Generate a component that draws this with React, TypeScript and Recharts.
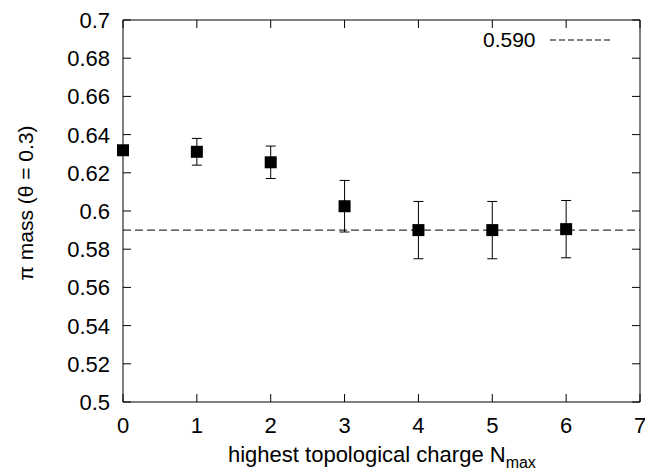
import React from 'react';
import { ScatterChart, Scatter, XAxis, YAxis, ErrorBar, ReferenceLine, ReferenceArea } from 'recharts';

const nmax = [0, 1, 2, 3, 4, 5, 6];
const pionMass = [0.6318, 0.631, 0.6255, 0.6025, 0.59, 0.59, 0.5905];
const massErr = [0.002, 0.007, 0.0085, 0.0135, 0.015, 0.015, 0.015];
const fitValue = 0.59;
const yTicks = [0.5, 0.52, 0.54, 0.56, 0.58, 0.6, 0.62, 0.64, 0.66, 0.68, 0.7];
const xTicks = [0, 1, 2, 3, 4, 5, 6, 7];

const data = nmax.map((n, i) => ({ x: n, y: pionMass[i], err: massErr[i] }));

const FONT = '"Liberation Sans", Arial, sans-serif';
const FS = 22;
// plot box (set by margins / axis sizes below)
const PLOT_TOP = 20;
const PLOT_RIGHT = 640;
const TICK = 8;
const SQ = 12;

// gnuplot-style inward ticks, mirrored on the top edge
const XTick = ({ x, y, payload }: any) => (
  <g>
    <line x1={x} y1={y} x2={x} y2={y - TICK} stroke="#000" />
    <line x1={x} y1={PLOT_TOP} x2={x} y2={PLOT_TOP + TICK} stroke="#000" />
    <text x={x} y={y + 30.5} textAnchor="middle" fontFamily={FONT} fontSize={FS} fill="#000">
      {payload.value}
    </text>
  </g>
);

// inward ticks, mirrored on the right edge
const YTick = ({ x, y, payload }: any) => (
  <g>
    <line x1={x} y1={y} x2={x + TICK} y2={y} stroke="#000" />
    <line x1={PLOT_RIGHT} y1={y} x2={PLOT_RIGHT - TICK} y2={y} stroke="#000" />
    <text x={x - 13} y={y} dy="0.36em" textAnchor="end" fontFamily={FONT} fontSize={FS} fill="#000">
      {payload.value}
    </text>
  </g>
);

const SquareDot = ({ cx, cy }: any) => (
  <rect x={cx - SQ / 2} y={cy - SQ / 2} width={SQ} height={SQ} fill="#000" />
);

const XLabel = () => (
  <text x={228} y={462} fontFamily={FONT} fontSize={FS} fill="#000">
    highest topological charge N
    <tspan fontSize={16} dy={6}>max</tspan>
  </text>
);

const YLabel = () => (
  <text
    x={33}
    y={203}
    transform="rotate(-90 33 203)"
    textAnchor="middle"
    fontFamily={FONT}
    fontSize={21}
    fill="#000"
  >
    π mass (θ = 0.3)
  </text>
);

export default function App() {
  return (
    <div style={{ position: 'absolute', left: 0, top: 0, width: 645, height: 470, background: '#fff' }}>
      <ScatterChart width={645} height={470} margin={{ top: PLOT_TOP, right: 645 - PLOT_RIGHT, left: 0, bottom: 0 }}>
        <XAxis
          dataKey="x"
          type="number"
          domain={[0, 7]}
          ticks={xTicks}
          height={68}
          axisLine={false}
          tickLine={false}
          tickSize={0}
          tickMargin={0}
          tick={XTick}
          label={{ content: XLabel }}
        />
        <YAxis
          dataKey="y"
          type="number"
          domain={[0.5, 0.7]}
          ticks={yTicks}
          width={123}
          axisLine={false}
          tickLine={false}
          tickSize={0}
          tickMargin={0}
          tick={YTick}
          label={{ content: YLabel }}
        />
        <ReferenceArea x1={0} x2={7} y1={0.5} y2={0.7} fill="none" stroke="#000" strokeWidth={1} />
        <ReferenceLine y={fitValue} stroke="#000" strokeDasharray="8 4" />
        <Scatter data={data} fill="#000" shape={SquareDot} isAnimationActive={false}>
          <ErrorBar dataKey="err" direction="y" width={5} stroke="#000" strokeWidth={1} isAnimationActive={false} />
        </Scatter>
      </ScatterChart>
      <div
        style={{
          position: 'absolute',
          left: 483,
          top: 29,
          display: 'flex',
          alignItems: 'center',
          fontFamily: FONT,
          fontSize: 21,
          lineHeight: '22px',
        }}
      >
        <span>0.590</span>
        <svg width={62} height={10} style={{ marginLeft: 14 }}>
          <line x1={0} y1={5} x2={62} y2={5} stroke="#000" strokeDasharray="6 3" />
        </svg>
      </div>
    </div>
  );
}
